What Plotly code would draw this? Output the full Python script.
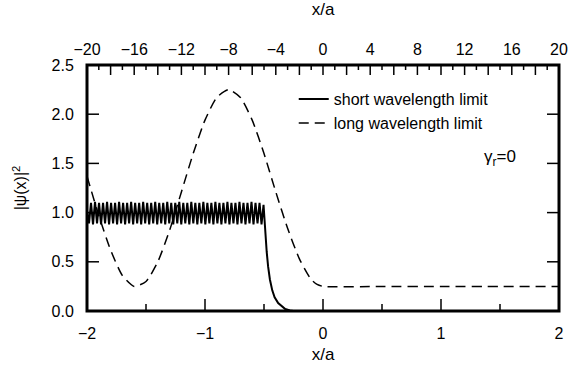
import plotly.graph_objects as go

# ---- data ----
# short wavelength limit: fast oscillation region
x_short_osc = [-2.000, -1.983, -1.966, -1.949, -1.932, -1.915, -1.898, -1.881, -1.864, -1.847,
               -1.830, -1.813, -1.796, -1.779, -1.762, -1.745, -1.728, -1.711, -1.694, -1.677,
               -1.660, -1.643, -1.626, -1.609, -1.592, -1.575, -1.558, -1.541, -1.524, -1.507,
               -1.490, -1.473, -1.456, -1.439, -1.422, -1.405, -1.388, -1.371, -1.354, -1.337,
               -1.320, -1.303, -1.286, -1.269, -1.252, -1.235, -1.218, -1.201, -1.184, -1.167,
               -1.150, -1.133, -1.116, -1.099, -1.082, -1.065, -1.048, -1.031, -1.014, -0.997,
               -0.980, -0.963, -0.946, -0.929, -0.912, -0.895, -0.878, -0.861, -0.844, -0.827,
               -0.810, -0.793, -0.776, -0.759, -0.742, -0.725, -0.708, -0.691, -0.674, -0.657,
               -0.640, -0.623, -0.606, -0.589, -0.572, -0.555, -0.538, -0.521, -0.504]
y_short_osc = [1.02, 0.89, 1.10, 0.88, 1.11, 0.89, 1.10, 0.88, 1.10, 0.89,
               1.11, 0.88, 1.10, 0.89, 1.10, 0.88, 1.11, 0.89, 1.10, 0.88,
               1.10, 0.89, 1.11, 0.88, 1.10, 0.89, 1.10, 0.88, 1.11, 0.89,
               1.10, 0.88, 1.10, 0.89, 1.11, 0.88, 1.10, 0.89, 1.10, 0.88,
               1.11, 0.89, 1.10, 0.88, 1.10, 0.89, 1.11, 0.88, 1.10, 0.89,
               1.10, 0.88, 1.11, 0.89, 1.10, 0.88, 1.10, 0.89, 1.11, 0.88,
               1.10, 0.89, 1.10, 0.88, 1.11, 0.89, 1.10, 0.88, 1.10, 0.89,
               1.11, 0.88, 1.10, 0.89, 1.10, 0.88, 1.11, 0.89, 1.10, 0.88,
               1.10, 0.89, 1.11, 0.88, 1.10, 0.89, 1.10, 0.88, 1.08]
# short wavelength limit: decay region
x_short_decay = [-0.500, -0.490, -0.477, -0.465, -0.450, -0.430, -0.410, -0.380, -0.350, -0.320, -0.280, -0.250]
y_short_decay = [1.00, 0.85, 0.60, 0.45, 0.32, 0.21, 0.14, 0.08, 0.045, 0.02, 0.005, 0.0]

# long wavelength limit
x_long = [-2.0, -1.9, -1.8, -1.7, -1.6, -1.5, -1.4, -1.3, -1.2, -1.1, -1.0,
          -0.9, -0.8, -0.7, -0.6, -0.5, -0.4, -0.3, -0.2, -0.1, -0.05, 0.0,
          0.5, 1.0, 1.5, 2.0]
y_long = [1.37, 0.97, 0.62, 0.36, 0.25, 0.30, 0.50, 0.82, 1.21, 1.60, 1.94,
          2.17, 2.25, 2.17, 1.94, 1.60, 1.21, 0.84, 0.53, 0.32, 0.27, 0.25,
          0.25, 0.25, 0.25, 0.25]

bottom_major = [-2, -1, 0, 1, 2]
bottom_labels = ["−2", "−1", "0", "1", "2"]
bottom_minor = [-1.5, -0.5, 0.5, 1.5]
top_major = [-20, -16, -12, -8, -4, 0, 4, 8, 12, 16, 20]
top_labels = ["−20", "−16", "−12", "−8", "−4", "0", "4", "8", "12", "16", "20"]
top_all = list(range(-20, 21))
y_ticks = [0.0, 0.5, 1.0, 1.5, 2.0, 2.5]
y_labels = ["0.0", "0.5", "1.0", "1.5", "2.0", "2.5"]

FONT = "Liberation Sans"
W, H = 579, 371
ML, MR, MT, MB = 87, 20, 65, 60
PW, PH = W - ML - MR, H - MT - MB

fig = go.Figure()
fig.add_trace(go.Scatter(
    x=x_short_osc + x_short_decay, y=y_short_osc + y_short_decay,
    mode="lines", line=dict(color="black", width=2.0),
    name="short wavelength limit"))
fig.add_trace(go.Scatter(
    x=x_long, y=y_long, mode="lines",
    line=dict(color="black", width=1.5, dash="10px,6px", shape="spline", smoothing=0.6),
    name="long wavelength limit"))
# carrier for top axis
fig.add_trace(go.Scatter(x=[-20, 20], y=[-1, -1], xaxis="x2", yaxis="y",
                         mode="lines", line=dict(color="rgba(0,0,0,0)"),
                         showlegend=False, hoverinfo="skip"))

fig.add_annotation(x=1.5, y=1.56, xref="x", yref="y", text="γ<sub>r</sub>=0",
                   showarrow=False, font=dict(family=FONT, size=17, color="black"))

# frame and tick marks (drawn above everything)
tick_line = dict(color="black", width=1.5)
fig.add_shape(type="rect", xref="paper", yref="paper", x0=0, x1=1, y0=0, y1=1,
              line=dict(color="black", width=3), layer="above")
for v in bottom_major:
    fig.add_shape(type="line", xref="x", yref="paper", x0=v, x1=v, y0=0, y1=12 / PH,
                  line=tick_line, layer="above")
for v in bottom_minor:
    fig.add_shape(type="line", xref="x", yref="paper", x0=v, x1=v, y0=0, y1=7 / PH,
                  line=tick_line, layer="above")
for v in top_all:
    ln = 10 if v % 2 == 0 else 5
    fig.add_shape(type="line", xref="x2", yref="paper", x0=v, x1=v, y0=1, y1=1 - ln / PH,
                  line=tick_line, layer="above")
for v in y_ticks:
    fig.add_shape(type="line", xref="paper", yref="y", x0=0, x1=12 / PW, y0=v, y1=v,
                  line=tick_line, layer="above")
    fig.add_shape(type="line", xref="paper", yref="y", x0=1, x1=1 - 12 / PW, y0=v, y1=v,
                  line=tick_line, layer="above")

tick_font = dict(family=FONT, size=16, color="black")
clear = "rgba(0,0,0,0)"

fig.update_layout(
    template="none",
    width=W, height=H,
    margin=dict(l=ML, r=MR, t=MT, b=MB),
    plot_bgcolor="white", paper_bgcolor="white",
    font=dict(family=FONT, size=16, color="black"),
    xaxis=dict(range=[-2, 2], tickmode="array", tickvals=bottom_major, ticktext=bottom_labels,
               ticks="outside", ticklen=8, tickcolor=clear,
               showline=False, showgrid=False, zeroline=False, tickfont=tick_font,
               title=dict(text="x/a", font=dict(family=FONT, size=17), standoff=6)),
    xaxis2=dict(range=[-20, 20], overlaying="x", side="top", anchor="y",
                tickmode="array", tickvals=top_major, ticktext=top_labels,
                ticks="outside", ticklen=3, tickcolor=clear,
                showline=False, showgrid=False, zeroline=False, tickfont=tick_font,
                title=dict(text="x/a", font=dict(family=FONT, size=17))),
    yaxis=dict(range=[0, 2.5], tickmode="array", tickvals=y_ticks, ticktext=y_labels,
               ticks="outside", ticklen=9, tickcolor=clear,
               showline=False, showgrid=False, zeroline=False, tickfont=tick_font,
               title=dict(text="|ψ(x)|<sup>2</sup>", font=dict(family=FONT, size=16), standoff=20)),
    legend=dict(x=0.438, y=0.93, xanchor="left", yanchor="top", bgcolor="rgba(0,0,0,0)",
                font=dict(family=FONT, size=16), tracegroupgap=0),
)

fig.write_html("out.html")
